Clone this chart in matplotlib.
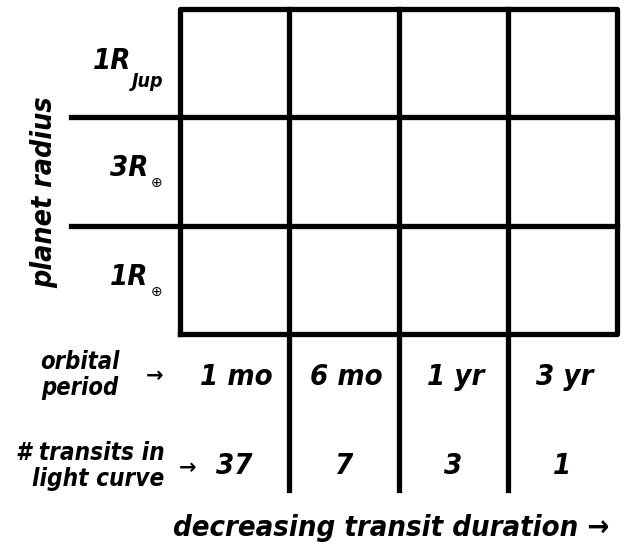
import matplotlib.pyplot as plt

# grid labels
row_labels = ['1R', '3R', '1R']          # bottom to top
row_subs = ['\u2295', '\u2295', 'Jup']
periods = ['1 mo', '6 mo', '1 yr', '3 yr']
n_transits = ['37', '7', '3', '1']

txt = dict(family='DejaVu Sans', stretch='condensed', weight='bold',
           style='italic', color='black')

fig = plt.figure(figsize=(6.27, 5.45), dpi=100)
# axes placed so that the 4x3 grid sits where the boxes are
ax = fig.add_axes([180 / 627, 1 - 334 / 545, 437 / 627, 325 / 545])
ax.set_xlim(0, 4)
ax.set_ylim(0, 3)
ax.axis('off')

ncol = len(periods)
nrow = len(row_labels)
lw = 3.8
line = dict(color='black', lw=lw, solid_capstyle='projecting', clip_on=False)

# outer box
ax.plot([0, ncol, ncol, 0, 0], [0, 0, nrow, nrow, 0], **line)
# vertical lines run down through the label rows
for i in range(1, ncol):
    ax.plot([i, i], [nrow, -1.44], **line)
# horizontal lines run left into the radius labels
for j in range(1, nrow):
    ax.plot([-1.0, ncol], [j, j], **line)

# planet radius labels
for j, (lab, sub) in enumerate(zip(row_labels, row_subs)):
    if sub == 'Jup':
        ax.text(-0.45, j + 0.52, lab, ha='right', va='center', fontsize=21, **txt)
        ax.text(-0.44, j + 0.33, sub, ha='left', va='center', fontsize=14, **txt)
    else:
        ax.text(-0.29, j + 0.53, lab, ha='right', va='center', fontsize=21, **txt)
        ax.text(-0.27, j + 0.39, sub, ha='left', va='center', fontsize=10,
                family='DejaVu Sans', color='black')

ax.text(-1.24, 1.31, 'planet radius', rotation=90, ha='center', va='center',
        fontsize=20.5, **txt)

# orbital period row
ax.text(-0.915, -0.38, 'orbital\nperiod', ha='center', va='center', fontsize=17,
        linespacing=1.1, **txt)
ax.text(-0.23, -0.39, '\u2192', ha='center', va='center', fontsize=15,
        family='DejaVu Sans', weight='bold', color='black')
for i, p in enumerate(periods):
    ax.text(i + 0.52, -0.40, p, ha='center', va='center', fontsize=21, **txt)

# transits row
ax.text(-0.14, -1.22, '# transits in\nlight curve', ha='right', va='center',
        multialignment='right', fontsize=17.5, linespacing=1.1, **txt)
ax.text(0.07, -1.24, '\u2192', ha='center', va='center', fontsize=15,
        family='DejaVu Sans', weight='bold', color='black')
for i, n in enumerate(n_transits):
    ax.text(i + 0.5, -1.22, n, ha='center', va='center', fontsize=21, **txt)

ax.text(1.93, -1.79, 'decreasing transit duration \u2192', ha='center', va='center',
        fontsize=21, **txt)

plt.savefig('out.png', dpi=100, facecolor='white')
